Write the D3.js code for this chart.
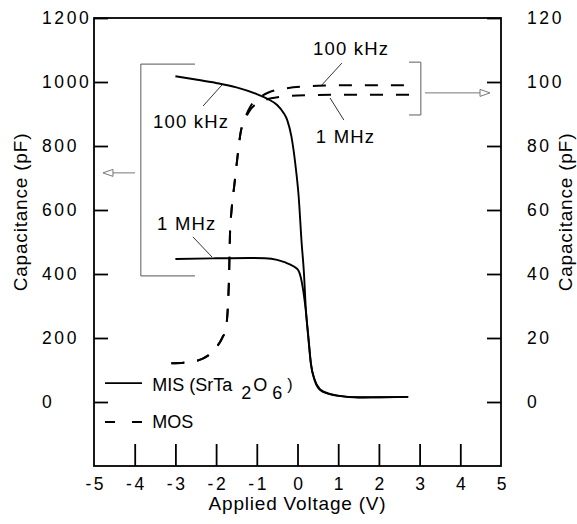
<!DOCTYPE html>
<html>
<head>
<meta charset="utf-8">
<script src="https://cdn.jsdelivr.net/npm/d3@7"></script>
<style>
  body { margin: 0; background: #fff; }
  svg { font-family: "Liberation Sans", Arial, Helvetica, sans-serif; }
  .tick text { font-size: 17.5px; letter-spacing: 2.6px; fill: #000; }
  .ann { font-size: 18.5px; letter-spacing: 1.2px; }
  .axisTitle { font-size: 19px; letter-spacing: 0.8px; }
</style>
</head>
<body>
<div id="chart"></div>
<script>
var svgWidth = 577;
var svgHeight = 524;

// plot frame in pixels
var frame = { left: 94, right: 501, top: 18, bottom: 466 };

// tick values
var xTicks = [-5, -4, -3, -2, -1, 0, 1, 2, 3, 4, 5];
var leftTicks = [0, 200, 400, 600, 800, 1000, 1200];
var rightTicks = [0, 20, 40, 60, 80, 100, 120];

// MIS (SrTa2O6), left axis, pF
var misVolt100k = [-3, -2.5, -2, -1.5, -1.0, -0.75, -0.5, -0.35, -0.25, -0.15, -0.05, 0.03, 0.1, 0.16, 0.2, 0.27, 0.33, 0.42, 0.55, 0.75, 1.0, 1.5, 2.0, 2.72];
var misCap100k  = [1018, 1008, 997, 983, 962, 948, 928, 905, 880, 830, 740, 640, 500, 400, 300, 200, 120, 70, 40, 27, 20, 15, 15, 16];
var misVolt1M = [-3, -2, -1.2, -0.8, -0.5, -0.3, -0.1, 0.02, 0.08, 0.15, 0.2, 0.27, 0.33, 0.42, 0.55, 0.75, 1.0, 1.5, 2.0, 2.72];
var misCap1M  = [447, 449, 450, 449, 444, 436, 424, 412, 390, 340, 290, 195, 118, 68, 38, 26, 19, 14, 15, 16];

// MOS, right axis, pF
var mosVolt100k = [-3.1, -2.8, -2.5, -2.2, -2.0, -1.85, -1.76, -1.71, -1.68, -1.66, -1.62, -1.55, -1.48, -1.40, -1.28, -1.15, -0.95, -0.7, -0.3, 0.5, 1.5, 2.8];
var mosCap100k  = [12.1, 12.3, 12.8, 14.5, 17, 20, 23, 30, 40, 52, 60, 68, 76, 84, 89, 92.5, 95, 96.8, 98, 98.8, 99, 99];
var mosVolt1M = [-3.1, -2.8, -2.5, -2.2, -2.0, -1.85, -1.76, -1.71, -1.68, -1.66, -1.62, -1.55, -1.48, -1.40, -1.28, -1.15, -0.9, -0.6, 0, 1.0, 2.8];
var mosCap1M  = [12.1, 12.3, 12.8, 14.5, 17, 20, 23, 30, 40, 52, 60, 68, 76, 84, 88.5, 91.5, 93.8, 95, 95.8, 96, 96];

var svg = d3.select("#chart").append("svg")
  .attr("width", svgWidth)
  .attr("height", svgHeight);

var x = d3.scaleLinear().domain([-5, 5]).range([frame.left, frame.right]);
var y = d3.scaleLinear().domain([-200, 1200]).range([frame.bottom, frame.top]);
var yR = d3.scaleLinear().domain([-20, 120]).range([frame.bottom, frame.top]);

// plain hyphen minus, no thousands separator
var plain = d => String(d);

// frame box
svg.append("rect")
  .attr("x", frame.left).attr("y", frame.top)
  .attr("width", frame.right - frame.left)
  .attr("height", frame.bottom - frame.top)
  .attr("fill", "none").attr("stroke", "#000").attr("stroke-width", 1.8);

// bottom axis: ticks point up into the plot
var xAxis = svg.append("g")
  .attr("transform", `translate(0, ${frame.bottom})`)
  .call(d3.axisBottom(x).tickValues(xTicks).tickSize(-22).tickPadding(0).tickFormat(plain));
xAxis.select(".domain").remove();
xAxis.selectAll("line").attr("stroke-width", 1.8)
  .filter(d => d === -5 || d === 5).remove();
xAxis.selectAll("text").attr("y", 24).attr("dy", 0).attr("dx", 1.3);

// left axis
var leftAxis = svg.append("g")
  .attr("transform", `translate(${frame.left}, 0)`)
  .call(d3.axisLeft(y).tickValues(leftTicks).tickSize(-14).tickFormat(plain));
leftAxis.select(".domain").remove();
leftAxis.selectAll("line").attr("stroke-width", 1.8);
leftAxis.selectAll("text").attr("x", 42 - frame.left).attr("text-anchor", "start").attr("dy", "0.3em");

// right axis
var rightAxis = svg.append("g")
  .attr("transform", `translate(${frame.right}, 0)`)
  .call(d3.axisRight(yR).tickValues(rightTicks).tickSize(-14).tickFormat(plain));
rightAxis.select(".domain").remove();
rightAxis.selectAll("line").attr("stroke-width", 1.8);
rightAxis.selectAll("text").attr("x", 527 - frame.right).attr("text-anchor", "start").attr("dy", "0.3em");
svg.selectAll(".tick text").attr("font-family", null).attr("font-size", null);

// axis titles
svg.append("text").attr("class", "axisTitle")
  .attr("transform", "translate(27, 212) rotate(-90)")
  .attr("text-anchor", "middle")
  .text("Capacitance (pF)");
svg.append("text").attr("class", "axisTitle")
  .attr("transform", "translate(572, 212) rotate(-90)")
  .attr("text-anchor", "middle")
  .text("Capacitance (pF)");
svg.append("text").attr("class", "axisTitle")
  .attr("x", (frame.left + frame.right) / 2).attr("y", 510)
  .attr("text-anchor", "middle")
  .text("Applied Voltage (V)");

// curves
function drawCurve(volts, caps, scaleY, dashed, width) {
  var pts = volts.map((v, i) => [v, caps[i]]);
  var line = d3.line()
    .x(d => x(d[0]))
    .y(d => scaleY(d[1]))
    .curve(d3.curveMonotoneX);
  svg.append("path")
    .datum(pts)
    .attr("d", line)
    .attr("fill", "none")
    .attr("stroke", "#000")
    .attr("stroke-width", width)
    .attr("stroke-dasharray", dashed ? "13,13" : null);
}

drawCurve(misVolt100k, misCap100k, y, false, 1.9);
drawCurve(misVolt1M, misCap1M, y, false, 1.9);
drawCurve(mosVolt100k, mosCap100k, yR, true, 2);
drawCurve(mosVolt1M, mosCap1M, yR, true, 2);

// brackets and arrows
function seg(v1, c1, v2, c2, color, w) {
  svg.append("line")
    .attr("x1", x(v1)).attr("y1", y(c1))
    .attr("x2", x(v2)).attr("y2", y(c2))
    .attr("stroke", color).attr("stroke-width", w);
}
function arrow(v1, v2, c, color) {
  var x1 = x(v1), x2 = x(v2), yy = y(c);
  var dir = x2 > x1 ? 1 : -1;
  svg.append("line")
    .attr("x1", x1).attr("y1", yy).attr("x2", x2 - dir * 9).attr("y2", yy)
    .attr("stroke", color).attr("stroke-width", 1);
  svg.append("path")
    .attr("d", `M${x2},${yy} L${x2 - dir * 10},${yy - 3.5} L${x2 - dir * 10},${yy + 3.5} Z`)
    .attr("fill", "#fff").attr("stroke", color).attr("stroke-width", 1);
}

var grey = "#777";
// left bracket (MIS -> left axis)
seg(-3.85, 1056, -3.85, 394, grey, 1.2);
seg(-3.85, 1056, -2.52, 1056, grey, 1.2);
seg(-3.85, 394, -2.52, 394, grey, 1.2);
arrow(-3.99, -4.78, 716, grey);
// right bracket (MOS -> right axis)
seg(3.03, 1062, 3.03, 897, grey, 1.2);
seg(2.74, 1062, 3.03, 1062, grey, 1.2);
seg(2.74, 897, 3.03, 897, grey, 1.2);
arrow(3.13, 4.73, 966, grey);

// leaders
seg(-2.32, 925, -1.855, 991, "#000", 0.8);
seg(-2.57, 516, -2.10, 453, "#000", 0.8);
seg(1.09, 1059, 0.60, 991, "#000", 0.8);
seg(0.80, 950, 1.14, 881, "#000", 0.8);

// annotation labels
function label(v, c, txt) {
  svg.append("text").attr("class", "ann")
    .attr("x", x(v)).attr("y", y(c))
    .text(txt);
}
label(-3.55, 856, "100 kHz");
label(-3.45, 537, "1 MHz");
label(0.38, 1084, "100 kHz");
label(0.45, 809, "1 MHz");

// legend
seg(-4.73, 59, -3.82, 59, "#000", 1.9);
svg.append("line")
  .attr("x1", x(-4.73)).attr("y1", y(-62.5))
  .attr("x2", x(-3.82)).attr("y2", y(-62.5))
  .attr("stroke", "#000").attr("stroke-width", 1.9)
  .attr("stroke-dasharray", "10,17");

var misText = svg.append("text")
  .attr("x", x(-3.57)).attr("y", y(34))
  .style("font-size", "18px");
misText.append("tspan").text("MIS (SrTa");
misText.append("tspan").attr("dx", 9).attr("dy", 8).text("2");
misText.append("tspan").attr("dx", 2).attr("dy", -8).text("O");
misText.append("tspan").attr("dx", 5).attr("dy", 8).text("6");
misText.append("tspan").attr("dx", 5).attr("dy", -9).style("font-size", "16px").text(")");

svg.append("text")
  .attr("x", x(-3.57)).attr("y", y(-81))
  .style("font-size", "18px")
  .text("MOS");
</script>
</body>
</html>
